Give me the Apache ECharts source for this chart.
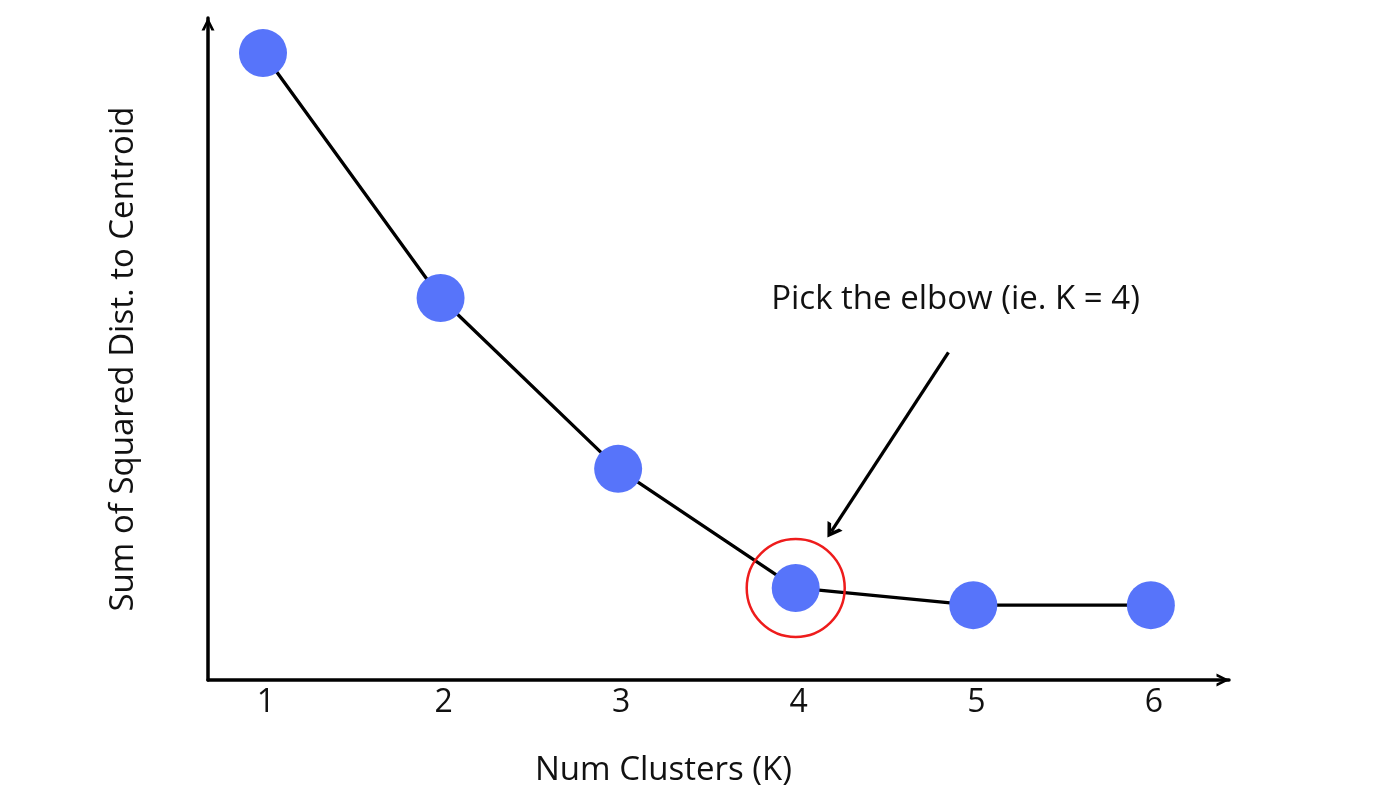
<!DOCTYPE html>
<html><head><meta charset="utf-8">
<script src="https://cdn.jsdelivr.net/npm/echarts@6/dist/echarts.min.js"></script>
<style>html,body{margin:0;padding:0;background:#fff}#c{width:1400px;height:788px}</style>
</head><body><div id="c"></div>
<script>
const kValues = [1, 2, 3, 4, 5, 6];
const sse = [94.7, 57.7, 31.9, 13.9, 11.3, 11.3];
const tickLabels = [1, 2, 3, 4, 5, 6];
const elbowK = 4;
const elbowSse = 13.9;
const noteText = 'Pick the elbow (ie. K = 4)';
const notePos = [4.9, 57.4];
const arrowFrom = [4.86, 49.5];
const arrowTo = [4.2, 22.4];
const xTitle = 'Num Clusters (K)';
const yTitle = 'Sum of Squared Dist. to Centroid';

const font = '"Open Sans", "Noto Sans", sans-serif';
const chevron = 'path://M0,10 L5,0 L10,10 L7.6,10 L5,4.2 L2.4,10 Z';
const chart = echarts.init(document.getElementById('c'));
chart.setOption({
  animation: false,
  backgroundColor: '#fff',
  grid: { left: 208, top: 18, width: 1021, height: 662, containLabel: false, outerBoundsMode: 'none' },
  xAxis: {
    type: 'value', min: 0.6903, max: 6.44,
    name: xTitle, nameLocation: 'middle', nameGap: 74,
    nameTextStyle: { fontFamily: font, fontSize: 33, color: '#111', padding: [0, 110, 0, 0] },
    axisLine: { show: true, onZero: false, symbol: ['none', chevron], symbolSize: [20, 13], symbolOffset: [0, -6], lineStyle: { color: '#000', width: 3.5 } },
    axisTick: { show: false },
    splitLine: { show: false },
    axisLabel: { customValues: tickLabels, fontFamily: font, fontSize: 32, color: '#111', margin: 7, padding: [0, 0, 0, 6] }
  },
  yAxis: {
    type: 'value', min: 0, max: 100,
    name: yTitle, nameLocation: 'middle', nameGap: 68, nameRotate: 90,
    nameTextStyle: { fontFamily: font, fontSize: 33, color: '#111', padding: [0, 20, 0, 0] },
    axisLine: { show: true, onZero: false, symbol: ['none', chevron], symbolSize: [20, 13], symbolOffset: [0, -6], lineStyle: { color: '#000', width: 3.5 } },
    axisTick: { show: false },
    splitLine: { show: false },
    axisLabel: { show: false }
  },
  series: [{
    type: 'line',
    data: kValues.map((k, i) => [k, sse[i]]),
    symbol: 'circle', symbolSize: 48,
    itemStyle: { color: '#5774fa' },
    lineStyle: { color: '#000', width: 3.3 },
    z: 3,
    markPoint: {
      silent: true,
      data: [
        { coord: [elbowK, elbowSse], symbol: 'circle', symbolSize: 98,
          itemStyle: { color: 'rgba(0,0,0,0)', borderColor: '#ee1c1c', borderWidth: 2.5 },
          label: { show: false } },
        { coord: notePos, symbol: 'circle', symbolSize: 0,
          label: { show: true, position: 'inside', formatter: noteText, fontFamily: font, fontSize: 33, color: '#111' } }
      ]
    },
    markLine: {
      silent: true,
      symbol: ['none', 'path://M0,10 L5,0 L10,10 L7.6,10 L5,4.8 L2.4,10 Z'],
      symbolSize: [18, 14],
      label: { show: false },
      lineStyle: { color: '#000', width: 3.3, type: 'solid' },
      data: [[{ coord: arrowFrom }, { coord: arrowTo }]]
    }
  }]
});
</script></body></html>
